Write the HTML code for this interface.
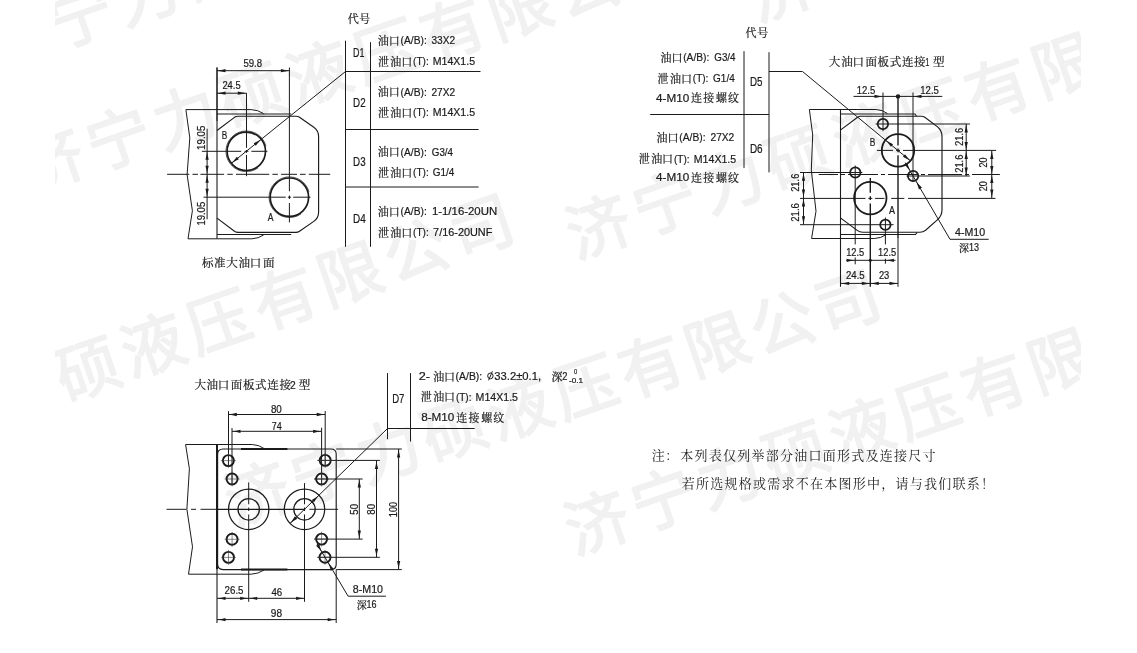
<!DOCTYPE html>
<html><head><meta charset="utf-8"><title>Port dimensions</title>
<style>
html,body{margin:0;padding:0;background:#fff}
svg{display:block;will-change:transform;opacity:.999}
text{font-family:"Liberation Sans","Noto Serif CJK SC","Noto Sans CJK SC",sans-serif;fill:#1b1b1b;stroke:#1b1b1b;stroke-width:.22px}
.wm text{font-family:"Liberation Sans","Noto Sans CJK SC",sans-serif;font-size:64px;text-anchor:middle;fill:#f1f1f1;stroke:#f1f1f1;stroke-width:1.7px;stroke-linejoin:round}
.c{font-size:11px}
.t{font-size:11.5px}
.n{font-size:13px;stroke-width:0}
.s{font-size:10px}
</style></head><body>
<svg width="1137" height="653" viewBox="0 0 1137 653">
<rect width="1137" height="653" fill="#fff"/>
<clipPath id="wmc"><rect x="55" y="0" width="1026" height="653"/></clipPath><g class="wm" clip-path="url(#wmc)">
<text transform="translate(15.4 41.1) rotate(-19)" y="21">济</text>
<text transform="translate(81.4 18.4) rotate(-19)" y="21">宁</text>
<text transform="translate(147.4 -4.3) rotate(-19)" y="21">力</text>
<text transform="translate(213.4 -27) rotate(-19)" y="21">硕</text>
<text transform="translate(52.5 162.8) rotate(-19)" y="21">济</text>
<text transform="translate(119.3 141) rotate(-19)" y="21">宁</text>
<text transform="translate(186.1 119.2) rotate(-19)" y="21">力</text>
<text transform="translate(252.9 97.4) rotate(-19)" y="21">硕</text>
<text transform="translate(319.7 75.6) rotate(-19)" y="21">液</text>
<text transform="translate(386.5 53.8) rotate(-19)" y="21">压</text>
<text transform="translate(453.3 32) rotate(-19)" y="21">有</text>
<text transform="translate(520.1 10.2) rotate(-19)" y="21">限</text>
<text transform="translate(586.9 -11.6) rotate(-19)" y="21">公</text>
<text transform="translate(653.7 -33.4) rotate(-19)" y="21">司</text>
<text transform="translate(-108.5 443) rotate(-19)" y="21">济</text>
<text transform="translate(-42.9 419.2) rotate(-19)" y="21">宁</text>
<text transform="translate(22.7 395.4) rotate(-19)" y="21">力</text>
<text transform="translate(88.3 371.6) rotate(-19)" y="21">硕</text>
<text transform="translate(153.9 347.8) rotate(-19)" y="21">液</text>
<text transform="translate(219.5 324) rotate(-19)" y="21">压</text>
<text transform="translate(285.1 300.2) rotate(-19)" y="21">有</text>
<text transform="translate(350.7 276.4) rotate(-19)" y="21">限</text>
<text transform="translate(416.3 252.6) rotate(-19)" y="21">公</text>
<text transform="translate(481.9 228.8) rotate(-19)" y="21">司</text>
<text transform="translate(599.3 229) rotate(-19)" y="21">济</text>
<text transform="translate(665.8 206) rotate(-19)" y="21">宁</text>
<text transform="translate(732.3 183) rotate(-19)" y="21">力</text>
<text transform="translate(798.8 160) rotate(-19)" y="21">硕</text>
<text transform="translate(865.3 137) rotate(-19)" y="21">液</text>
<text transform="translate(931.8 114) rotate(-19)" y="21">压</text>
<text transform="translate(998.3 91) rotate(-19)" y="21">有</text>
<text transform="translate(1064.8 68) rotate(-19)" y="21">限</text>
<text transform="translate(1131.3 45) rotate(-19)" y="21">公</text>
<text transform="translate(258.2 495.9) rotate(-19)" y="21">济</text>
<text transform="translate(323.8 474.6) rotate(-19)" y="21">宁</text>
<text transform="translate(389.4 453.3) rotate(-19)" y="21">力</text>
<text transform="translate(455 432) rotate(-19)" y="21">硕</text>
<text transform="translate(520.6 410.7) rotate(-19)" y="21">液</text>
<text transform="translate(586.2 389.4) rotate(-19)" y="21">压</text>
<text transform="translate(651.8 368.1) rotate(-19)" y="21">有</text>
<text transform="translate(717.4 346.8) rotate(-19)" y="21">限</text>
<text transform="translate(783 325.5) rotate(-19)" y="21">公</text>
<text transform="translate(848.6 304.2) rotate(-19)" y="21">司</text>
<text transform="translate(598 525) rotate(-19)" y="21">济</text>
<text transform="translate(664.1 501.9) rotate(-19)" y="21">宁</text>
<text transform="translate(730.2 478.8) rotate(-19)" y="21">力</text>
<text transform="translate(796.3 455.7) rotate(-19)" y="21">硕</text>
<text transform="translate(862.4 432.6) rotate(-19)" y="21">液</text>
<text transform="translate(928.5 409.5) rotate(-19)" y="21">压</text>
<text transform="translate(994.6 386.4) rotate(-19)" y="21">有</text>
<text transform="translate(1060.7 363.3) rotate(-19)" y="21">限</text>
<text transform="translate(1126.8 340.2) rotate(-19)" y="21">公</text>
<text transform="translate(781 -8) rotate(-19)" y="21">济</text>
</g>
<g class="g">
<path d="M345.5 40.7L345.5 246.8" stroke="#1b1b1b" stroke-width="1" fill="none"/>
<path d="M370.5 42.2L370.5 246.8" stroke="#1b1b1b" stroke-width="1" fill="none"/>
<path d="M345.5 71.5L480.5 71.5" stroke="#1b1b1b" stroke-width="1" fill="none"/>
<path d="M345.5 129.5L478.6 129.5" stroke="#1b1b1b" stroke-width="1" fill="none"/>
<path d="M345.5 187L478.6 187" stroke="#1b1b1b" stroke-width="1" fill="none"/>
<text class="c" x="347.75 359.18" y="22.5">代号</text>
<text x="353.1" y="56.8" font-size="12.2" textLength="11.4" lengthAdjust="spacingAndGlyphs">D1</text>
<text x="353.1" y="106.9" font-size="12.2" textLength="12.5" lengthAdjust="spacingAndGlyphs">D2</text>
<text x="353.1" y="165.5" font-size="12.2" textLength="12.5" lengthAdjust="spacingAndGlyphs">D3</text>
<text x="353.1" y="223.4" font-size="12.2" textLength="12.7" lengthAdjust="spacingAndGlyphs">D4</text>
<text class="c" x="377.85 388.79" y="44.5">油口</text>
<text x="400.6" y="43.7" font-size="11.8" textLength="26.2" lengthAdjust="spacingAndGlyphs">(A/B):</text>
<text x="431.5" y="43.7" font-size="11.8" textLength="23.6" lengthAdjust="spacingAndGlyphs">33X2</text>
<text class="c" x="377.88 390.35 401.19" y="65.5">泄油口</text>
<text x="413.1" y="64.7" font-size="11.8" textLength="15.6" lengthAdjust="spacingAndGlyphs">(T):</text>
<text x="432.7" y="64.7" font-size="11.8" textLength="42.4" lengthAdjust="spacingAndGlyphs">M14X1.5</text>
<text class="c" x="377.85 388.79" y="96.3">油口</text>
<text x="400.6" y="95.5" font-size="11.8" textLength="26.2" lengthAdjust="spacingAndGlyphs">(A/B):</text>
<text x="431.5" y="95.5" font-size="11.8" textLength="23.6" lengthAdjust="spacingAndGlyphs">27X2</text>
<text class="c" x="377.88 390.35 401.19" y="117">泄油口</text>
<text x="413.1" y="116.2" font-size="11.8" textLength="15.6" lengthAdjust="spacingAndGlyphs">(T):</text>
<text x="432.7" y="116.2" font-size="11.8" textLength="42.4" lengthAdjust="spacingAndGlyphs">M14X1.5</text>
<text class="c" x="377.85 388.79" y="156.4">油口</text>
<text x="400.6" y="155.6" font-size="11.8" textLength="26.2" lengthAdjust="spacingAndGlyphs">(A/B):</text>
<text x="431.8" y="155.6" font-size="11.8" textLength="21.2" lengthAdjust="spacingAndGlyphs">G3/4</text>
<text class="c" x="377.88 390.35 401.19" y="177.2">泄油口</text>
<text x="413.1" y="176.4" font-size="11.8" textLength="15.6" lengthAdjust="spacingAndGlyphs">(T):</text>
<text x="432.7" y="176.4" font-size="11.8" textLength="21.6" lengthAdjust="spacingAndGlyphs">G1/4</text>
<text class="c" x="377.85 388.79" y="215.5">油口</text>
<text x="400.6" y="214.7" font-size="11.8" textLength="26.2" lengthAdjust="spacingAndGlyphs">(A/B):</text>
<text x="431.9" y="214.7" font-size="11.8" textLength="65.3" lengthAdjust="spacingAndGlyphs">1-1/16-20UN</text>
<text class="c" x="377.88 390.35 401.19" y="236.7">泄油口</text>
<text x="413.1" y="235.9" font-size="11.8" textLength="15.6" lengthAdjust="spacingAndGlyphs">(T):</text>
<text x="433.1" y="235.9" font-size="11.8" textLength="59.3" lengthAdjust="spacingAndGlyphs">7/16-20UNF</text>
<path d="M744 51.2L744 168.1" stroke="#1b1b1b" stroke-width="1" fill="none"/>
<path d="M769 52.2L769 172.4" stroke="#1b1b1b" stroke-width="1" fill="none"/>
<path d="M650.2 114.5L769 114.5" stroke="#1b1b1b" stroke-width="1" fill="none"/>
<text class="c" x="745.45 757.18" y="37.1">代号</text>
<text x="749.9" y="85.5" font-size="12.2" textLength="12.5" lengthAdjust="spacingAndGlyphs">D5</text>
<text x="749.9" y="153.4" font-size="12.2" textLength="12.7" lengthAdjust="spacingAndGlyphs">D6</text>
<text class="c" x="660.45 671.39" y="62">油口</text>
<text x="683.2" y="61.2" font-size="11.8" textLength="26.2" lengthAdjust="spacingAndGlyphs">(A/B):</text>
<text x="714.3" y="61.2" font-size="11.8" textLength="21.2" lengthAdjust="spacingAndGlyphs">G3/4</text>
<text class="c" x="657.58 670.05 680.89" y="82.8">泄油口</text>
<text x="692.8" y="82" font-size="11.8" textLength="15.6" lengthAdjust="spacingAndGlyphs">(T):</text>
<text x="713.1" y="82" font-size="11.8" textLength="21.6" lengthAdjust="spacingAndGlyphs">G1/4</text>
<text x="656" y="101.5" font-size="11.8" textLength="33.2" lengthAdjust="spacingAndGlyphs">4-M10</text>
<text class="c" x="691.01 703.33 715.93 727.98" y="102.3">连接螺纹</text>
<text class="c" x="656.55 667.49" y="142.1">油口</text>
<text x="679.3" y="141.3" font-size="11.8" textLength="26.2" lengthAdjust="spacingAndGlyphs">(A/B):</text>
<text x="710.5" y="141.3" font-size="11.8" textLength="23.8" lengthAdjust="spacingAndGlyphs">27X2</text>
<text class="c" x="638.78 651.25 662.09" y="163.3">泄油口</text>
<text x="674" y="162.5" font-size="11.8" textLength="15.6" lengthAdjust="spacingAndGlyphs">(T):</text>
<text x="693.8" y="162.5" font-size="11.8" textLength="42.4" lengthAdjust="spacingAndGlyphs">M14X1.5</text>
<text x="656" y="181.4" font-size="11.8" textLength="33.2" lengthAdjust="spacingAndGlyphs">4-M10</text>
<text class="c" x="691.01 703.33 715.93 727.98" y="182.2">连接螺纹</text>
<path d="M387.5 373.1L387.5 439.2" stroke="#1b1b1b" stroke-width="1" fill="none"/>
<path d="M410.5 373.1L410.5 441.5" stroke="#1b1b1b" stroke-width="1" fill="none"/>
<path d="M387.5 428.5L474.7 428.5" stroke="#1b1b1b" stroke-width="1" fill="none"/>
<text x="392.2" y="402.7" font-size="12.2" textLength="12.2" lengthAdjust="spacingAndGlyphs">D7</text>
<text x="418.7" y="379.7" font-size="11.8" textLength="11.3" lengthAdjust="spacingAndGlyphs">2-</text>
<text class="c" x="433.15 444.09" y="380.5">油口</text>
<text x="455.6" y="379.7" font-size="11.8" textLength="26.6" lengthAdjust="spacingAndGlyphs">(A/B):</text>
<ellipse cx="490.4" cy="375.9" rx="2.7" ry="2.9" fill="none" stroke="#1b1b1b" stroke-width="1"/>
<path d="M488.6 380.3L492.4 371.3" stroke="#1b1b1b" stroke-width="1" fill="none"/>
<text x="494.3" y="379.7" font-size="11.8" textLength="46.8" lengthAdjust="spacingAndGlyphs">33.2±0.1,</text>
<text class="c" x="551.45" y="380.5">深</text>
<text x="562.2" y="379.7" font-size="11.8" textLength="5.2" lengthAdjust="spacingAndGlyphs">2</text>
<text x="574.1" y="374.1" font-size="7.6" textLength="3.2" lengthAdjust="spacingAndGlyphs">0</text>
<text x="569" y="383.4" font-size="7.6" textLength="14.1" lengthAdjust="spacingAndGlyphs">-0.1</text>
<text class="c" x="420.68 433.15 443.99" y="401.3">泄油口</text>
<text x="455.9" y="400.5" font-size="11.8" textLength="15.6" lengthAdjust="spacingAndGlyphs">(T):</text>
<text x="475.6" y="400.5" font-size="11.8" textLength="42.4" lengthAdjust="spacingAndGlyphs">M14X1.5</text>
<text x="421.2" y="421.3" font-size="11.8" textLength="33.2" lengthAdjust="spacingAndGlyphs">8-M10</text>
<text class="c" x="456.21 468.53 481.13 493.18" y="422.1">连接螺纹</text>
<text class="t" x="202.06 214.06 226.34 238.55 249.76 262.89" y="266.6">标准大油口面</text>
<text class="t" x="828.74 841.25 852.56 865.59 877.5 889.67 901.9 914.03" y="66">大油口面板式连接</text>
<text x="925.2" y="65.7" font-size="11.8" textLength="4.1" lengthAdjust="spacingAndGlyphs">1</text>
<text class="t" x="933.07" y="66">型</text>
<text class="t" x="194.44 206.59 217.74 230.81 243.06 255.07 267.34 279.51" y="389.1">大油口面板式连接</text>
<text x="289.9" y="388.9" font-size="11.8" textLength="5.7" lengthAdjust="spacingAndGlyphs">2</text>
<text class="t" x="298.68" y="389.1">型</text>
<text class="n" x="651.69 665.2 680.19 694.44 708.69 722.94 737.19 751.44 765.69 779.94 794.19 808.44 822.69 836.94 851.19 865.44 879.69 893.94 908.19 922.44" y="460">注：本列表仅列举部分油口面形式及连接尺寸</text>
<text class="n" x="681.69 695.94 710.19 724.44 738.69 752.94 767.19 781.44 795.69 809.94 824.19 838.44 852.69 866.94 881.19 895.44 909.69 923.94 938.19 952.44 966.69 980.94" y="487.5">若所选规格或需求不在本图形中，请与我们联系！</text>
<path d="M185.9 109.6H251.2Q258 109.8 263.7 113.7" stroke="#1b1b1b" stroke-width="1" fill="none"/>
<path d="M188 238.8H251.8Q258.5 238.6 263.7 234.9" stroke="#1b1b1b" stroke-width="1" fill="none"/>
<path d="M217 114L291.2 114" stroke="#1b1b1b" stroke-width="1.1" fill="none"/>
<path d="M217 234.5L291.2 234.5" stroke="#1b1b1b" stroke-width="1.1" fill="none"/>
<path d="M185.9 109.7L189.8 137.9L187.1 174.7L192.4 210.8L188 238.8" stroke="#1b1b1b" stroke-width="1" fill="none"/>
<path d="M217 130.5L234.8 117.1Q236.2 116.2 238 116.2H296Q297.9 116.2 299.5 117.3L313.8 127.2Q318.6 130.6 318.6 136.6V212Q318.6 218 313.8 221.4L299.5 231.3Q297.9 232.4 296 232.4H238Q236.2 232.4 234.8 231.5L217 218.1" stroke="#1b1b1b" stroke-width="1.15" fill="none"/>
<path d="M217 67.5L217 238.8" stroke="#1b1b1b" stroke-width="1.1" fill="none"/>
<path d="M217 67.5L217 121" stroke="#1b1b1b" stroke-width="1" fill="none"/>
<path d="M207.1 128.7L207.1 219.3" stroke="#1b1b1b" stroke-width="1" fill="none"/>
<path d="M289.4 67.5V191.3M289.4 195.5V199M289.4 203V222.4" stroke="#1b1b1b" stroke-width="1" fill="none"/>
<path d="M246.5 93.2V147.8M246.5 150V152.8M246.5 155V176.2" stroke="#1b1b1b" stroke-width="1" fill="none"/>
<path d="M201.9 151.3H241.2M244.6 151.3H248.4M251.4 151.3H267.4" stroke="#1b1b1b" stroke-width="1" fill="none"/>
<path d="M203.5 197.2H285.8M287.9 197.2H291.1M293.2 197.2H310.5" stroke="#1b1b1b" stroke-width="1" fill="none"/>
<path d="M167.1 174.3H189.3M192.5 174.3H198M200.4 174.3H224.1M227.3 174.3H232.8M236 174.3H269.2M272.4 174.3H277.9M281.1 174.3H297M300 174.3H305.6M308.8 174.3H330.2" stroke="#1b1b1b" stroke-width="1" fill="none"/>
<circle cx="246.3" cy="151.3" r="19.2" stroke="#1b1b1b" stroke-width="1.7" fill="none"/>
<path d="M265.96 146.03A20.35 20.35 0 1 0 257.97 167.97" stroke="#1b1b1b" stroke-width="0.7" fill="none"/>
<circle cx="289.4" cy="197.2" r="19.2" stroke="#1b1b1b" stroke-width="1.7" fill="none"/>
<path d="M309.06 191.93A20.35 20.35 0 1 0 301.07 213.87" stroke="#1b1b1b" stroke-width="0.7" fill="none"/>
<path d="M345.5 71.5L231.26 163.39" stroke="#1b1b1b" stroke-width="1" fill="none"/>
<path d="M261.34 139.21Q258.09 142.62 255.75 145.82L253.68 143.25Q257.3 141.65 261.34 139.21Z" fill="#1b1b1b"/>
<path d="M231.26 163.39Q234.51 159.98 236.85 156.78L238.92 159.35Q235.3 160.95 231.26 163.39Z" fill="#1b1b1b"/>
<path d="M217 70.7L289.4 70.7" stroke="#1b1b1b" stroke-width="1" fill="none"/>
<path d="M217 70.7Q221.68 70.07 225.5 69.05L225.5 72.35Q221.68 71.33 217 70.7Z" fill="#1b1b1b"/>
<path d="M289.4 70.7Q284.72 71.33 280.9 72.35L280.9 69.05Q284.72 70.07 289.4 70.7Z" fill="#1b1b1b"/>
<text x="243.4" y="66.5" font-size="10.8" textLength="18.7" lengthAdjust="spacingAndGlyphs">59.8</text>
<path d="M217 93.2L246.5 93.2" stroke="#1b1b1b" stroke-width="1" fill="none"/>
<path d="M217 93.2Q221.68 92.57 225.5 91.55L225.5 94.85Q221.68 93.83 217 93.2Z" fill="#1b1b1b"/>
<path d="M246.3 93.2Q241.62 93.83 237.8 94.85L237.8 91.55Q241.62 92.57 246.3 93.2Z" fill="#1b1b1b"/>
<text x="222.4" y="89.4" font-size="10.8" textLength="18.2" lengthAdjust="spacingAndGlyphs">24.5</text>
<path d="M207.1 151.3Q207.73 155.98 208.75 159.8L205.45 159.8Q206.47 155.98 207.1 151.3Z" fill="#1b1b1b"/>
<path d="M207.1 174.3Q206.47 169.62 205.45 165.8L208.75 165.8Q207.73 169.62 207.1 174.3Z" fill="#1b1b1b"/>
<path d="M207.1 174.3Q207.73 178.98 208.75 182.8L205.45 182.8Q206.47 178.98 207.1 174.3Z" fill="#1b1b1b"/>
<path d="M207.1 197.2Q206.47 192.52 205.45 188.7L208.75 188.7Q207.73 192.52 207.1 197.2Z" fill="#1b1b1b"/>
<text transform="translate(205 149.9) rotate(-90)" font-size="10.8" textLength="24.3" lengthAdjust="spacingAndGlyphs">19.05</text>
<text transform="translate(205.3 225.6) rotate(-90)" font-size="10.8" textLength="23.8" lengthAdjust="spacingAndGlyphs">19.05</text>
<text x="221.8" y="139.3" font-size="10.8" textLength="5.5" lengthAdjust="spacingAndGlyphs">B</text>
<text x="267.7" y="221.2" font-size="10.8" textLength="5.7" lengthAdjust="spacingAndGlyphs">A</text>
<path d="M809.4 109.5H876.2Q882.5 109.8 887.4 113.5" stroke="#1b1b1b" stroke-width="1" fill="none"/>
<path d="M811.6 238.5H874.5Q881 238.3 886.2 234.6" stroke="#1b1b1b" stroke-width="1" fill="none"/>
<path d="M840.7 114H914.9l1.5 1.8" stroke="#1b1b1b" stroke-width="1.1" fill="none"/>
<path d="M840.7 234.5H915.5l1.5-1.8" stroke="#1b1b1b" stroke-width="1.1" fill="none"/>
<path d="M809.4 109.6L812.7 135L811.3 170L816 211.2L811.6 238.5" stroke="#1b1b1b" stroke-width="1" fill="none"/>
<path d="M840.7 129.9L857.6 117.2Q859 116.2 860.8 116.2H921.5Q923.3 116.2 924.8 117.3L937.6 126.9Q942 130.6 942 136.6V209.5Q942 215.8 937.6 219.6L925.6 230.2Q923 232.2 919.9 232.2H862.8Q859.6 232.2 857.2 230.4L840.7 218.1" stroke="#1b1b1b" stroke-width="1.15" fill="none"/>
<path d="M840.5 109.6L840.5 286.8" stroke="#1b1b1b" stroke-width="1.1" fill="none"/>
<path d="M883 92.5L883 131.2" stroke="#1b1b1b" stroke-width="1" fill="none"/>
<path d="M913 92.5L913 181.8" stroke="#1b1b1b" stroke-width="1" fill="none"/>
<path d="M898 96.4V145.5M898 148.6V152.2M898 155.3V238" stroke="#1b1b1b" stroke-width="1.4" fill="none"/>
<path d="M898 238L898 286.8" stroke="#1b1b1b" stroke-width="1" fill="none"/>
<path d="M870.3 178.1V192.8M870.3 196.2V200M870.3 203.4V286.8" stroke="#1b1b1b" stroke-width="1.4" fill="none"/>
<path d="M855.2 165.5V244.4M855.2 257.5V264.3" stroke="#1b1b1b" stroke-width="1" fill="none"/>
<path d="M885.4 217.5V244.4M885.4 258.7V263.7" stroke="#1b1b1b" stroke-width="1" fill="none"/>
<path d="M875.6 124L969.9 124" stroke="#1b1b1b" stroke-width="1" fill="none"/>
<path d="M876.9 150.4H893M896 150.4H900M903 150.4H996.1" stroke="#1b1b1b" stroke-width="1" fill="none"/>
<path d="M906.5 176L969.9 176" stroke="#1b1b1b" stroke-width="1" fill="none"/>
<path d="M818.7 174.5H838M841 174.5H845M848 174.5H878M881 174.5H885M888 174.5H918M921 174.5H925M928 174.5H962M965 174.5H969M972 174.5H999.9" stroke="#1b1b1b" stroke-width="1" fill="none"/>
<path d="M800 172.5L862.4 172.5" stroke="#1b1b1b" stroke-width="1" fill="none"/>
<path d="M800 198.4H865.5M868.3 198.4H872.3M875.1 198.4H884.5M891.2 198.4H904.3M908 198.4H995.5" stroke="#1b1b1b" stroke-width="1" fill="none"/>
<path d="M800 224.7L893.6 224.7" stroke="#1b1b1b" stroke-width="1" fill="none"/>
<circle cx="882.9" cy="124" r="5.2" stroke="#1b1b1b" stroke-width="1.75" fill="none"/>
<circle cx="913.1" cy="176" r="5.2" stroke="#1b1b1b" stroke-width="1.75" fill="none"/>
<circle cx="855.3" cy="172.5" r="5.2" stroke="#1b1b1b" stroke-width="1.75" fill="none"/>
<circle cx="885.4" cy="224.7" r="5.2" stroke="#1b1b1b" stroke-width="1.75" fill="none"/>
<circle cx="898" cy="150.4" r="16.2" stroke="#1b1b1b" stroke-width="1.8" fill="none"/>
<circle cx="870.3" cy="198.1" r="16.2" stroke="#1b1b1b" stroke-width="1.8" fill="none"/>
<path d="M853.5 96.4L942.3 96.4" stroke="#1b1b1b" stroke-width="1" fill="none"/>
<path d="M883 96.4Q878.33 97.03 874.5 98.05L874.5 94.75Q878.33 95.77 883 96.4Z" fill="#1b1b1b"/>
<path d="M913 96.4Q917.67 95.77 921.5 94.75L921.5 98.05Q917.67 97.03 913 96.4Z" fill="#1b1b1b"/>
<circle cx="898" cy="96.4" r="2.2" fill="#1b1b1b"/>
<text x="856.8" y="93.5" font-size="10.8" textLength="18.5" lengthAdjust="spacingAndGlyphs">12.5</text>
<text x="920.3" y="93.5" font-size="10.8" textLength="18.6" lengthAdjust="spacingAndGlyphs">12.5</text>
<path d="M966.2 124L966.2 176" stroke="#1b1b1b" stroke-width="1" fill="none"/>
<path d="M966.2 124Q966.83 128.68 967.85 132.5L964.55 132.5Q965.57 128.68 966.2 124Z" fill="#1b1b1b"/>
<path d="M966.2 150.4Q965.57 145.72 964.55 141.9L967.85 141.9Q966.83 145.72 966.2 150.4Z" fill="#1b1b1b"/>
<path d="M966.2 150.4Q966.83 155.08 967.85 158.9L964.55 158.9Q965.57 155.08 966.2 150.4Z" fill="#1b1b1b"/>
<path d="M966.2 176Q965.57 171.32 964.55 167.5L967.85 167.5Q966.83 171.32 966.2 176Z" fill="#1b1b1b"/>
<text transform="translate(963 145.9) rotate(-90)" font-size="10.8" textLength="18.2" lengthAdjust="spacingAndGlyphs">21.6</text>
<text transform="translate(963 172.8) rotate(-90)" font-size="10.8" textLength="18.2" lengthAdjust="spacingAndGlyphs">21.6</text>
<path d="M991.8 150.4L991.8 198.1" stroke="#1b1b1b" stroke-width="1" fill="none"/>
<path d="M991.8 150.4Q992.43 155.08 993.45 158.9L990.15 158.9Q991.17 155.08 991.8 150.4Z" fill="#1b1b1b"/>
<path d="M991.8 174.4Q991.17 169.72 990.15 165.9L993.45 165.9Q992.43 169.72 991.8 174.4Z" fill="#1b1b1b"/>
<path d="M991.8 174.4Q992.43 179.08 993.45 182.9L990.15 182.9Q991.17 179.08 991.8 174.4Z" fill="#1b1b1b"/>
<path d="M991.8 198.1Q991.17 193.42 990.15 189.6L993.45 189.6Q992.43 193.42 991.8 198.1Z" fill="#1b1b1b"/>
<text transform="translate(987.4 167.4) rotate(-90)" font-size="10.8" textLength="10" lengthAdjust="spacingAndGlyphs">20</text>
<text transform="translate(987.4 191.2) rotate(-90)" font-size="10.8" textLength="10" lengthAdjust="spacingAndGlyphs">20</text>
<path d="M803.5 172.3L803.5 224.7" stroke="#1b1b1b" stroke-width="1" fill="none"/>
<path d="M803.5 172.3Q804.13 176.98 805.15 180.8L801.85 180.8Q802.87 176.98 803.5 172.3Z" fill="#1b1b1b"/>
<path d="M803.5 198.1Q802.87 193.42 801.85 189.6L805.15 189.6Q804.13 193.42 803.5 198.1Z" fill="#1b1b1b"/>
<path d="M803.5 198.1Q804.13 202.78 805.15 206.6L801.85 206.6Q802.87 202.78 803.5 198.1Z" fill="#1b1b1b"/>
<path d="M803.5 224.7Q802.87 220.02 801.85 216.2L805.15 216.2Q804.13 220.02 803.5 224.7Z" fill="#1b1b1b"/>
<text transform="translate(799.3 191.8) rotate(-90)" font-size="10.8" textLength="18.1" lengthAdjust="spacingAndGlyphs">21.6</text>
<text transform="translate(799.3 221.8) rotate(-90)" font-size="10.8" textLength="18.7" lengthAdjust="spacingAndGlyphs">21.6</text>
<path d="M846.2 260.3L895.5 260.3" stroke="#1b1b1b" stroke-width="1" fill="none"/>
<path d="M855.2 260.3Q850.53 260.93 846.7 261.95L846.7 258.65Q850.53 259.67 855.2 260.3Z" fill="#1b1b1b"/>
<path d="M885.4 260.3Q890.07 259.67 893.9 258.65L893.9 261.95Q890.07 260.93 885.4 260.3Z" fill="#1b1b1b"/>
<circle cx="870.3" cy="260.3" r="1.5" fill="#1b1b1b"/>
<text x="846.2" y="256" font-size="10.8" textLength="18.1" lengthAdjust="spacingAndGlyphs">12.5</text>
<text x="878.1" y="256" font-size="10.8" textLength="18.1" lengthAdjust="spacingAndGlyphs">12.5</text>
<path d="M840.7 283.4L898 283.4" stroke="#1b1b1b" stroke-width="1" fill="none"/>
<path d="M840.7 283.4Q845.38 282.77 849.2 281.75L849.2 285.05Q845.38 284.03 840.7 283.4Z" fill="#1b1b1b"/>
<path d="M870.3 283.4Q865.62 284.03 861.8 285.05L861.8 281.75Q865.62 282.77 870.3 283.4Z" fill="#1b1b1b"/>
<path d="M870.3 283.4Q874.97 282.77 878.8 281.75L878.8 285.05Q874.97 284.03 870.3 283.4Z" fill="#1b1b1b"/>
<path d="M898 283.4Q893.33 284.03 889.5 285.05L889.5 281.75Q893.33 282.77 898 283.4Z" fill="#1b1b1b"/>
<text x="846" y="278.9" font-size="10.8" textLength="18.7" lengthAdjust="spacingAndGlyphs">24.5</text>
<text x="878.9" y="278.9" font-size="10.8" textLength="10.4" lengthAdjust="spacingAndGlyphs">23</text>
<path d="M769 71.5H802.5L910.5 160.86" stroke="#1b1b1b" stroke-width="1" fill="none"/>
<path d="M885.5 139.94Q889.49 142.46 893.07 144.13L890.96 146.66Q888.68 143.42 885.5 139.94Z" fill="#1b1b1b"/>
<path d="M910.5 160.86Q906.51 158.34 902.93 156.67L905.04 154.14Q907.32 157.38 910.5 160.86Z" fill="#1b1b1b"/>
<path d="M910.06 170.83Q907.11 167.14 904.24 164.39L907.26 162.61Q908.26 166.46 910.06 170.83Z" fill="#1b1b1b"/>
<path d="M916.14 181.17Q919.09 184.86 921.96 187.61L918.94 189.39Q917.94 185.54 916.14 181.17Z" fill="#1b1b1b"/>
<path d="M905.24 162.64L950 239.3H988.7" stroke="#1b1b1b" stroke-width="1" fill="none"/>
<text x="955" y="236.4" font-size="10.8" textLength="30.2" lengthAdjust="spacingAndGlyphs">4-M10</text>
<text class="s" x="958.96" y="251.5">深</text>
<text x="968.9" y="250.9" font-size="10.8" textLength="10" lengthAdjust="spacingAndGlyphs">13</text>
<text x="869.7" y="146.2" font-size="10.8" textLength="5.6" lengthAdjust="spacingAndGlyphs">B</text>
<text x="889" y="214.3" font-size="10.8" textLength="6" lengthAdjust="spacingAndGlyphs">A</text>
<path d="M185.6 444.5H252.4Q259 444.8 264.5 448.8" stroke="#1b1b1b" stroke-width="1" fill="none"/>
<path d="M188.5 574.2H251.2Q258 574 264.3 569.9" stroke="#1b1b1b" stroke-width="1" fill="none"/>
<path d="M185.6 444.5L189.4 468.7L186.9 509.3L192.5 546.8L188.5 574.2" stroke="#1b1b1b" stroke-width="1" fill="none"/>
<path d="M217.6 454.5V564.1Q217.6 569.6 223.1 569.6H330.9Q336.2 569.6 336.2 564.3V454Q336.2 449.0 330.9 449.0H223.1Q217.6 449.0 217.6 454.5Z" stroke="#1b1b1b" stroke-width="1.15" fill="none"/>
<path d="M217 444.5L217 569.6" stroke="#1b1b1b" stroke-width="2" fill="none"/>
<path d="M217 569.6L217 623" stroke="#1b1b1b" stroke-width="1.1" fill="none"/>
<path d="M241 449L287.4 449" stroke="#1b1b1b" stroke-width="2" fill="none"/>
<path d="M241 569.6L287.4 569.6" stroke="#1b1b1b" stroke-width="2" fill="none"/>
<path d="M336.2 569.6L336.2 623" stroke="#1b1b1b" stroke-width="1" fill="none"/>
<path d="M228.5 411.2L228.5 466" stroke="#1b1b1b" stroke-width="1" fill="none"/>
<path d="M232 428L232 485" stroke="#1b1b1b" stroke-width="1" fill="none"/>
<path d="M325.2 411L325.2 466" stroke="#1b1b1b" stroke-width="1" fill="none"/>
<path d="M321.6 427.7L321.6 485" stroke="#1b1b1b" stroke-width="1" fill="none"/>
<path d="M336.2 449L401.8 449" stroke="#1b1b1b" stroke-width="1" fill="none"/>
<path d="M336.2 569.6L401.8 569.6" stroke="#1b1b1b" stroke-width="1" fill="none"/>
<path d="M317.5 460.4L379.9 460.4" stroke="#1b1b1b" stroke-width="1" fill="none"/>
<path d="M317.5 557.3L379.9 557.3" stroke="#1b1b1b" stroke-width="1" fill="none"/>
<path d="M314.3 479L362.7 479" stroke="#1b1b1b" stroke-width="1" fill="none"/>
<path d="M314.3 539.1L362.7 539.1" stroke="#1b1b1b" stroke-width="1" fill="none"/>
<path d="M166.5 509.3H186.5M191 509.3H196M200.5 509.3H217" stroke="#1b1b1b" stroke-width="1" fill="none"/>
<path d="M217 509.3L305.2 509.3" stroke="#1b1b1b" stroke-width="1.3" fill="none"/>
<path d="M309.3 509.3L338.1 509.3" stroke="#1b1b1b" stroke-width="1" fill="none"/>
<path d="M248.7 482.4V504.3M248.7 507.5V511M248.7 514.5V601.8" stroke="#1b1b1b" stroke-width="1" fill="none"/>
<path d="M304.5 483.1V504.3M304.5 507.5V511M304.5 514.5V601.8" stroke="#1b1b1b" stroke-width="1" fill="none"/>
<circle cx="228.4" cy="460.6" r="5.5" stroke="#1b1b1b" stroke-width="1.9" fill="none"/>
<path d="M220.9 460.6L235.9 460.6" stroke="#3a3a3a" stroke-width="0.6" fill="none"/>
<path d="M228.4 453.1L228.4 468.1" stroke="#3a3a3a" stroke-width="0.6" fill="none"/>
<circle cx="232.1" cy="479" r="5.5" stroke="#1b1b1b" stroke-width="1.9" fill="none"/>
<path d="M224.6 479L239.6 479" stroke="#3a3a3a" stroke-width="0.6" fill="none"/>
<path d="M232.1 471.5L232.1 486.5" stroke="#3a3a3a" stroke-width="0.6" fill="none"/>
<circle cx="232.1" cy="539.3" r="5.5" stroke="#1b1b1b" stroke-width="1.9" fill="none"/>
<path d="M224.6 539.3L239.6 539.3" stroke="#3a3a3a" stroke-width="0.6" fill="none"/>
<path d="M232.1 531.8L232.1 546.8" stroke="#3a3a3a" stroke-width="0.6" fill="none"/>
<circle cx="228.5" cy="557.4" r="5.5" stroke="#1b1b1b" stroke-width="1.9" fill="none"/>
<path d="M221 557.4L236 557.4" stroke="#3a3a3a" stroke-width="0.6" fill="none"/>
<path d="M228.5 549.9L228.5 564.9" stroke="#3a3a3a" stroke-width="0.6" fill="none"/>
<circle cx="325.2" cy="460.4" r="5.5" stroke="#1b1b1b" stroke-width="1.9" fill="none"/>
<path d="M317.7 460.4L332.7 460.4" stroke="#3a3a3a" stroke-width="0.6" fill="none"/>
<path d="M325.2 452.9L325.2 467.9" stroke="#3a3a3a" stroke-width="0.6" fill="none"/>
<circle cx="321.6" cy="479" r="5.5" stroke="#1b1b1b" stroke-width="1.9" fill="none"/>
<path d="M314.1 479L329.1 479" stroke="#3a3a3a" stroke-width="0.6" fill="none"/>
<path d="M321.6 471.5L321.6 486.5" stroke="#3a3a3a" stroke-width="0.6" fill="none"/>
<circle cx="321.6" cy="539.1" r="5.5" stroke="#1b1b1b" stroke-width="1.9" fill="none"/>
<path d="M314.1 539.1L329.1 539.1" stroke="#3a3a3a" stroke-width="0.6" fill="none"/>
<path d="M321.6 531.6L321.6 546.6" stroke="#3a3a3a" stroke-width="0.6" fill="none"/>
<circle cx="325" cy="557.3" r="5.5" stroke="#1b1b1b" stroke-width="1.9" fill="none"/>
<path d="M317.5 557.3L332.5 557.3" stroke="#3a3a3a" stroke-width="0.6" fill="none"/>
<path d="M325 549.8L325 564.8" stroke="#3a3a3a" stroke-width="0.6" fill="none"/>
<circle cx="248.7" cy="509.3" r="20.2" stroke="#1b1b1b" stroke-width="1.25" fill="none"/>
<circle cx="248.7" cy="509.3" r="10.7" stroke="#1b1b1b" stroke-width="1.25" fill="none"/>
<circle cx="304.5" cy="509.3" r="20.2" stroke="#1b1b1b" stroke-width="1.25" fill="none"/>
<circle cx="304.5" cy="509.3" r="10.7" stroke="#1b1b1b" stroke-width="1.25" fill="none"/>
<path d="M228.3 414.5L325.2 414.5" stroke="#1b1b1b" stroke-width="1" fill="none"/>
<path d="M228.3 414.5Q232.98 413.87 236.8 412.85L236.8 416.15Q232.98 415.13 228.3 414.5Z" fill="#1b1b1b"/>
<path d="M325.2 414.5Q320.52 415.13 316.7 416.15L316.7 412.85Q320.52 413.87 325.2 414.5Z" fill="#1b1b1b"/>
<text x="270.9" y="413.1" font-size="10.8" textLength="10.9" lengthAdjust="spacingAndGlyphs">80</text>
<path d="M232 431.3L321.6 431.3" stroke="#1b1b1b" stroke-width="1" fill="none"/>
<path d="M232 431.3Q236.68 430.67 240.5 429.65L240.5 432.95Q236.68 431.93 232 431.3Z" fill="#1b1b1b"/>
<path d="M321.6 431.3Q316.93 431.93 313.1 432.95L313.1 429.65Q316.93 430.67 321.6 431.3Z" fill="#1b1b1b"/>
<text x="271.8" y="429.7" font-size="10.8" textLength="10" lengthAdjust="spacingAndGlyphs">74</text>
<path d="M359.3 479L359.3 539.1" stroke="#1b1b1b" stroke-width="1" fill="none"/>
<path d="M359.3 479Q359.93 483.68 360.95 487.5L357.65 487.5Q358.67 483.68 359.3 479Z" fill="#1b1b1b"/>
<path d="M359.3 539.1Q358.67 534.43 357.65 530.6L360.95 530.6Q359.93 534.43 359.3 539.1Z" fill="#1b1b1b"/>
<path d="M376.5 460.4L376.5 557.3" stroke="#1b1b1b" stroke-width="1" fill="none"/>
<path d="M376.5 460.4Q377.13 465.07 378.15 468.9L374.85 468.9Q375.87 465.07 376.5 460.4Z" fill="#1b1b1b"/>
<path d="M376.5 557.3Q375.87 552.62 374.85 548.8L378.15 548.8Q377.13 552.62 376.5 557.3Z" fill="#1b1b1b"/>
<path d="M398.6 449L398.6 569.6" stroke="#1b1b1b" stroke-width="1" fill="none"/>
<path d="M398.6 449Q399.23 453.68 400.25 457.5L396.95 457.5Q397.97 453.68 398.6 449Z" fill="#1b1b1b"/>
<path d="M398.6 569.6Q397.97 564.93 396.95 561.1L400.25 561.1Q399.23 564.93 398.6 569.6Z" fill="#1b1b1b"/>
<text transform="translate(358.1 514.7) rotate(-90)" font-size="10.8" textLength="10.7" lengthAdjust="spacingAndGlyphs">50</text>
<text transform="translate(375.2 514.7) rotate(-90)" font-size="10.8" textLength="10.7" lengthAdjust="spacingAndGlyphs">80</text>
<text transform="translate(397.2 517.2) rotate(-90)" font-size="10.8" textLength="15.4" lengthAdjust="spacingAndGlyphs">100</text>
<path d="M217 598.3L304.6 598.3" stroke="#1b1b1b" stroke-width="1" fill="none"/>
<path d="M217 598.3Q221.68 597.67 225.5 596.65L225.5 599.95Q221.68 598.93 217 598.3Z" fill="#1b1b1b"/>
<path d="M248.7 598.3Q244.02 598.93 240.2 599.95L240.2 596.65Q244.02 597.67 248.7 598.3Z" fill="#1b1b1b"/>
<path d="M248.7 598.3Q253.38 597.67 257.2 596.65L257.2 599.95Q253.38 598.93 248.7 598.3Z" fill="#1b1b1b"/>
<path d="M304.6 598.3Q299.93 598.93 296.1 599.95L296.1 596.65Q299.93 597.67 304.6 598.3Z" fill="#1b1b1b"/>
<text x="224.6" y="593.7" font-size="10.8" textLength="18.9" lengthAdjust="spacingAndGlyphs">26.5</text>
<text x="271.4" y="595.6" font-size="10.8" textLength="10.8" lengthAdjust="spacingAndGlyphs">46</text>
<path d="M217 619.6L336.2 619.6" stroke="#1b1b1b" stroke-width="1" fill="none"/>
<path d="M217 619.6Q221.68 618.97 225.5 617.95L225.5 621.25Q221.68 620.23 217 619.6Z" fill="#1b1b1b"/>
<path d="M336.2 619.6Q331.52 620.23 327.7 621.25L327.7 617.95Q331.52 618.97 336.2 619.6Z" fill="#1b1b1b"/>
<text x="270.8" y="616.8" font-size="10.8" textLength="11.2" lengthAdjust="spacingAndGlyphs">98</text>
<path d="M387.5 428.5L290.02 523.38" stroke="#1b1b1b" stroke-width="1" fill="none"/>
<path d="M318.98 495.22Q316.07 498.93 314.04 502.33L311.74 499.96Q315.19 498.03 318.98 495.22Z" fill="#1b1b1b"/>
<path d="M290.02 523.38Q292.93 519.67 294.96 516.27L297.26 518.64Q293.81 520.57 290.02 523.38Z" fill="#1b1b1b"/>
<path d="M321.94 552.14Q318.98 548.46 316.1 545.72L319.11 543.94Q320.13 547.78 321.94 552.14Z" fill="#1b1b1b"/>
<path d="M328.06 562.46Q331.02 566.14 333.9 568.88L330.89 570.66Q329.87 566.82 328.06 562.46Z" fill="#1b1b1b"/>
<path d="M317.09 543.97L348.1 596.2H385.9" stroke="#1b1b1b" stroke-width="1" fill="none"/>
<text x="352.8" y="593" font-size="10.8" textLength="30.2" lengthAdjust="spacingAndGlyphs">8-M10</text>
<text class="s" x="356.86" y="608.6">深</text>
<text x="366.4" y="608" font-size="10.8" textLength="10" lengthAdjust="spacingAndGlyphs">16</text>
</g>
</svg>
</body></html>
